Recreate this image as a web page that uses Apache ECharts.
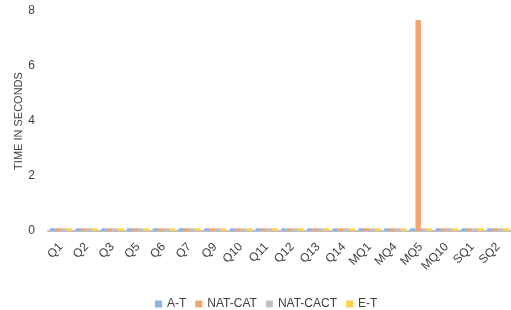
<!DOCTYPE html>
<html><head><meta charset="utf-8">
<script src="https://cdn.jsdelivr.net/npm/echarts@6/dist/echarts.min.js"></script>
<style>html,body{margin:0;padding:0;background:#fff}#c{width:511px;height:310px}</style>
</head><body><div id="c"></div>
<script>
var categories = ['Q1','Q2','Q3','Q5','Q6','Q7','Q9','Q10','Q11','Q12','Q13','Q14','MQ1','MQ4','MQ5','MQ10','SQ1','SQ2'];
var seriesNames = ['A-T','NAT-CAT','NAT-CACT','E-T'];
var aT     = [0.1,0.1,0.1,0.1,0.1,0.1,0.1,0.1,0.1,0.1,0.1,0.1,0.1,0.1,0.1,0.1,0.1,0.1];
var natCat = [0.1,0.1,0.1,0.1,0.1,0.1,0.1,0.1,0.1,0.1,0.1,0.1,0.1,0.1,7.67,0.1,0.1,0.1];
var natCact= [0.1,0.1,0.1,0.1,0.1,0.1,0.1,0.1,0.1,0.1,0.1,0.1,0.1,0.1,0.1,0.1,0.1,0.1];
var eT     = [0.1,0.1,0.1,0.1,0.1,0.1,0.1,0.1,0.1,0.1,0.1,0.1,0.1,0.1,0.1,0.1,0.1,0.1];
var yTicks = [0,2,4,6,8];
var colors = ['#8EB4E3','#F4A470','#C0C0C0','#FFD24D'];
var data = [aT, natCat, natCact, eT];
var chart = echarts.init(document.getElementById('c'));
chart.setOption({
  animation:false,
  textStyle:{fontFamily:'Liberation Sans, Arial'},
  legend:{top:293,left:150,itemWidth:7,itemHeight:7,itemGap:9,itemTextGap:5,icon:'rect',
    textStyle:{fontSize:12,color:'#404040'},data:seriesNames},
  grid:{left:48,right:0,top:11,bottom:79},
  xAxis:{type:'category',data:categories,
    axisLine:{lineStyle:{color:'#BFBFBF',width:2}},axisTick:{show:false},
    axisLabel:{rotate:45,fontSize:12,color:'#404040',margin:14}},
  yAxis:{type:'value',min:0,max:8,interval:2,
    name:'TIME IN SECONDS',nameLocation:'middle',nameGap:24,nameRotate:90,nameMoveOverlap:false,
    nameTextStyle:{fontSize:11,color:'#404040'},
    splitLine:{show:false},axisLine:{show:false},axisTick:{show:false},
    axisLabel:{fontSize:12,color:'#404040',margin:13,formatter:function(v){return yTicks.indexOf(v)>=0?v:'';}}},
  series:seriesNames.map(function(n,i){return {name:n,type:'bar',data:data[i],
    itemStyle:{color:colors[i]},barGap:'0%',barCategoryGap:'14%'};})
});
</script></body></html>
